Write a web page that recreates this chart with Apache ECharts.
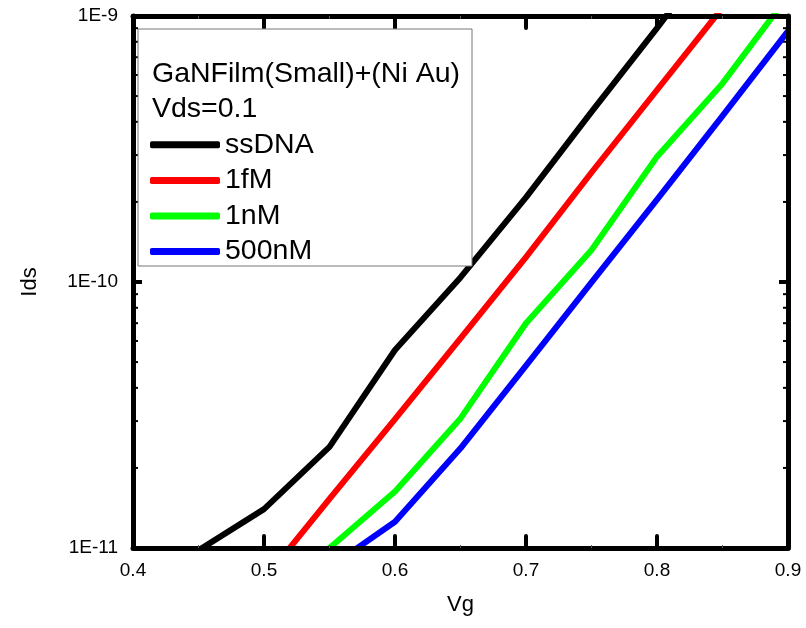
<!DOCTYPE html>
<html>
<head>
<meta charset="utf-8">
<script src="https://cdn.jsdelivr.net/npm/echarts@6/dist/echarts.min.js"></script>
<style>
html,body{margin:0;padding:0;background:#fff;}
#chart{width:806px;height:628px;}
</style>
</head>
<body>
<div id="chart"></div>
<script>
// ---- data ----
var vg = [0.45, 0.5, 0.55, 0.6, 0.65, 0.7, 0.75, 0.8, 0.85, 0.9];
var ssDNA = [9.8e-12, 1.40e-11, 2.40e-11, 5.55e-11, 1.04e-10, 2.08e-10, 4.36e-10, 9.0e-10, 1.9e-9, null];
var fM1 = [null, 7.6e-12, 1.53e-11, 3.05e-11, 6.14e-11, 1.24e-10, 2.58e-10, 5.27e-10, 1.075e-9, null];
var nM1 = [null, null, 1.0e-11, 1.63e-11, 3.07e-11, 7.0e-11, 1.32e-10, 2.96e-10, 5.58e-10, 1.19e-9];
var nM500 = [null, null, 8.45e-12, 1.256e-11, 2.37e-11, 4.85e-11, 9.96e-11, 2.04e-10, 4.21e-10, 8.77e-10];
var seriesNames = ['ssDNA', '1fM', '1nM', '500nM'];
var seriesColors = ['#000000', '#ff0000', '#00ff00', '#0000ff'];
var yTickLabels = {'-11': '1E-11', '-10': '1E-10', '-9': '1E-9'};
var yMinorTicks = [2e-11,3e-11,4e-11,5e-11,6e-11,7e-11,8e-11,9e-11,2e-10,3e-10,4e-10,5e-10,6e-10,7e-10,8e-10,9e-10];
var legendTitle = ['GaNFilm(Small)+(Ni Au)', 'Vds=0.1'];

var FONT = '"Liberation Sans", Arial, Helvetica, sans-serif';

function pairs(ys) {
  var out = [];
  for (var i = 0; i < vg.length; i++) if (ys[i] != null) out.push([vg[i], ys[i]]);
  return out;
}
var allY = [ssDNA, fM1, nM1, nM500];

var chart = echarts.init(document.getElementById('chart'), null, {renderer: 'canvas'});

function xAxisCfg(pos, showLabel) {
  return {
    type: 'value', position: pos, min: 0.4, max: 0.9, interval: 0.1, z: 5,
    axisLine: {show: true, onZero: false, lineStyle: {color: '#000', width: 5, cap: 'round'}},
    axisTick: {show: true, inside: true, length: 12, lineStyle: {color: '#000', width: 4, cap: 'round'}},
    minorTick: {show: true, splitNumber: 2, length: 3, lineStyle: {color: '#555', width: 1}},
    splitLine: {show: false},
    axisLabel: {show: showLabel, margin: 13, color: '#000', fontSize: 19, fontFamily: FONT,
      formatter: function (v) { return v.toFixed(1); }}
  };
}
function yAxisCfg(pos, showLabel) {
  return {
    type: 'log', logBase: 10, position: pos, min: 1e-11, max: 1e-9, z: 5,
    axisLine: {show: true, onZero: false, lineStyle: {color: '#000', width: 5, cap: 'round'}},
    axisTick: {show: true, inside: true, length: 9, lineStyle: {color: '#000', width: 4}},
    minorTick: {show: false},
    splitLine: {show: false},
    axisLabel: {show: showLabel, margin: 15, color: '#000', fontSize: 19, fontFamily: FONT,
      formatter: function (v) {
        var e = Math.round(Math.log10(v));
        return yTickLabels[String(e)] || ('1E' + e);
      }}
  };
}

var xMain = xAxisCfg('bottom', true);
xMain.name = 'Vg';
xMain.nameLocation = 'middle';
xMain.nameGap = 46;
xMain.nameTextStyle = {color: '#000', fontSize: 22, fontFamily: FONT};
var yMain = yAxisCfg('left', true);
yMain.name = 'Ids';
yMain.nameLocation = 'middle';
yMain.nameGap = 92;
yMain.nameRotate = 90;
yMain.nameTextStyle = {color: '#000', fontSize: 22, fontFamily: FONT};

var series = seriesNames.map(function (n, i) {
  return {
    name: n, type: 'line', data: pairs(allY[i]), showSymbol: false, symbol: 'none',
    clip: true, color: seriesColors[i], z: 2,
    lineStyle: {color: seriesColors[i], width: 6, join: 'round', cap: 'butt'},
    emphasis: {disabled: true}, animation: false
  };
});
series.push({
  name: 'minorTicks', type: 'custom', z: 6, silent: true, animation: false,
  data: yMinorTicks.map(function (v) { return [0.4, v]; }),
  renderItem: function (params, api) {
    var v = api.value(1);
    var l = api.coord([0.4, v]);
    var r = api.coord([0.9, v]);
    var st = {stroke: '#000', lineWidth: 2};
    return {type: 'group', children: [
      {type: 'line', shape: {x1: l[0] + 2, y1: l[1], x2: l[0] + 5, y2: l[1]}, style: st},
      {type: 'line', shape: {x1: r[0] - 5, y1: r[1], x2: r[0] - 2, y2: r[1]}, style: st}
    ]};
  }
});

var option = {
  backgroundColor: '#fff',
  animation: false,
  grid: {left: 133, right: 18, top: 16, bottom: 80, containLabel: false},
  xAxis: [xMain, xAxisCfg('top', false)],
  yAxis: [yMain, yAxisCfg('right', false)],
  legend: {
    orient: 'vertical', left: 150, top: 127, padding: 0, itemGap: 0,
    itemWidth: 70, itemHeight: 7, icon: 'roundRect', z: 8,
    data: seriesNames,
    itemStyle: {borderWidth: 0},
    textStyle: {color: '#000', fontSize: 28.5, fontFamily: FONT, lineHeight: 35.6},
    selectedMode: false
  },
  graphic: [
    {type: 'rect', z: 7, shape: {x: 138, y: 29, width: 334, height: 237},
      style: {fill: '#fff', stroke: '#777', lineWidth: 1}},
    {type: 'text', z: 9, x: 152, y: 74,
      style: {text: legendTitle[0], fill: '#000', font: '28.5px ' + FONT, textVerticalAlign: 'middle', verticalAlign: 'middle'}},
    {type: 'text', z: 9, x: 152, y: 109,
      style: {text: legendTitle[1], fill: '#000', font: '28.5px ' + FONT, textVerticalAlign: 'middle', verticalAlign: 'middle'}}
  ],
  series: series
};
chart.setOption(option);
</script>
</body>
</html>
